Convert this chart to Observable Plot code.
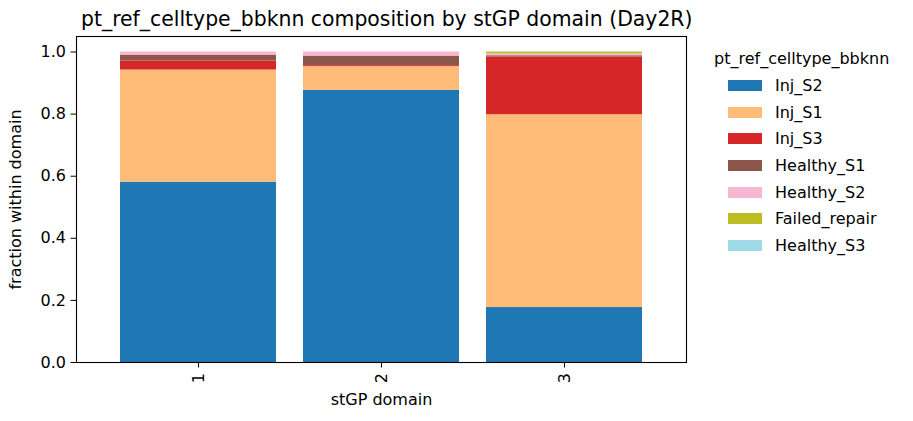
<!DOCTYPE html>
<html>
<head>
<meta charset="utf-8">
<script src="https://cdn.jsdelivr.net/npm/d3@7"></script>
<script src="https://cdn.jsdelivr.net/npm/@observablehq/plot@0.6"></script>
<style>
  html, body { margin: 0; padding: 0; background: #fff; }
  #wrap { position: relative; width: 913px; height: 421px; font-family: "DejaVu Sans", sans-serif; color: #000; background: #fff; }
  #chart { position: absolute; left: 0; top: 0; }
  #title { position: absolute; left: 81px; width: 600px; top: 7px; text-align: center; font-size: 20.4px; white-space: nowrap; z-index: 2; }
  #legend { position: absolute; left: 714px; top: 49px; font-size: 16px; z-index: 2; }
  #legend .ttl { margin-bottom: 4px; white-space: nowrap; }
  #legend .row { display: flex; align-items: center; height: 26.7px; }
  #legend .sw { width: 34px; height: 11px; margin-left: 14px; margin-right: 13px; }
</style>
</head>
<body>
<div id="wrap">
  <div id="chart"></div>
  <div id="title">pt_ref_celltype_bbknn composition by stGP domain (Day2R)</div>
  <div id="legend"></div>
</div>
<script>
// stGP domains along the x axis
const domains = ["1", "2", "3"];

// cell types, listed in stacking order (bottom to top)
const celltypes = ["Inj_S2", "Inj_S1", "Inj_S3", "Healthy_S1", "Healthy_S2", "Failed_repair", "Healthy_S3"];
const palette = ["#1f77b4", "#ffbb78", "#d62728", "#8c564b", "#f7b6d2", "#bcbd22", "#9edae5"];

// fraction of each cell type within domains 1, 2, 3
const injS2        = [0.581, 0.877, 0.177];
const injS1        = [0.361, 0.076, 0.621];
const injS3        = [0.029, 0.003, 0.186];
const healthyS1    = [0.019, 0.031, 0.004];
const healthyS2    = [0.010, 0.013, 0.006];
const failedRepair = [0.000, 0.000, 0.006];
const healthyS3    = [0.000, 0.000, 0.000];

const yTicks = [0, 0.2, 0.4, 0.6, 0.8, 1.0];

const series = [injS2, injS1, injS3, healthyS1, healthyS2, failedRepair, healthyS3];
const rows = [];
celltypes.forEach((ct, i) => {
  domains.forEach((d, j) => rows.push({domain: d, celltype: ct, value: series[i][j]}));
});

const plot = Plot.plot({
  width: 700,
  height: 421,
  marginLeft: 76,
  marginRight: 14,
  marginTop: 36,
  marginBottom: 59,
  style: {fontFamily: "DejaVu Sans, sans-serif", fontSize: "16px", color: "#000", background: "transparent"},
  x: {domain: domains, paddingInner: 0.15, paddingOuter: 0.235},
  y: {domain: [0, 1.05]},
  color: {domain: celltypes, range: palette},
  marks: [
    Plot.barY(rows, {x: "domain", y: "value", fill: "celltype", order: celltypes}),
    Plot.frame({stroke: "#000", strokeWidth: 1.1}),
    Plot.axisY({ticks: yTicks, tickFormat: d3.format(".1f"), tickSize: 5.5, tickPadding: 5, fontSize: 16,
      label: "fraction within domain", labelAnchor: "center", labelArrow: "none", labelOffset: 67}),
    Plot.axisX({tickSize: 5.5, tickPadding: 5, tickRotate: -90, fontSize: 16,
      label: "stGP domain", labelAnchor: "center", labelArrow: "none", labelOffset: 42})
  ]
});
document.getElementById("chart").appendChild(plot);

// legend built from the same colour scale
const color = plot.scale("color");
const legend = document.getElementById("legend");
const ttl = document.createElement("div");
ttl.className = "ttl";
ttl.textContent = "pt_ref_celltype_bbknn";
legend.appendChild(ttl);
color.domain.forEach((ct, i) => {
  const row = document.createElement("div");
  row.className = "row";
  const sw = document.createElement("div");
  sw.className = "sw";
  sw.style.background = color.range[i];
  const lab = document.createElement("span");
  lab.textContent = ct;
  row.appendChild(sw);
  row.appendChild(lab);
  legend.appendChild(row);
});
</script>
</body>
</html>
